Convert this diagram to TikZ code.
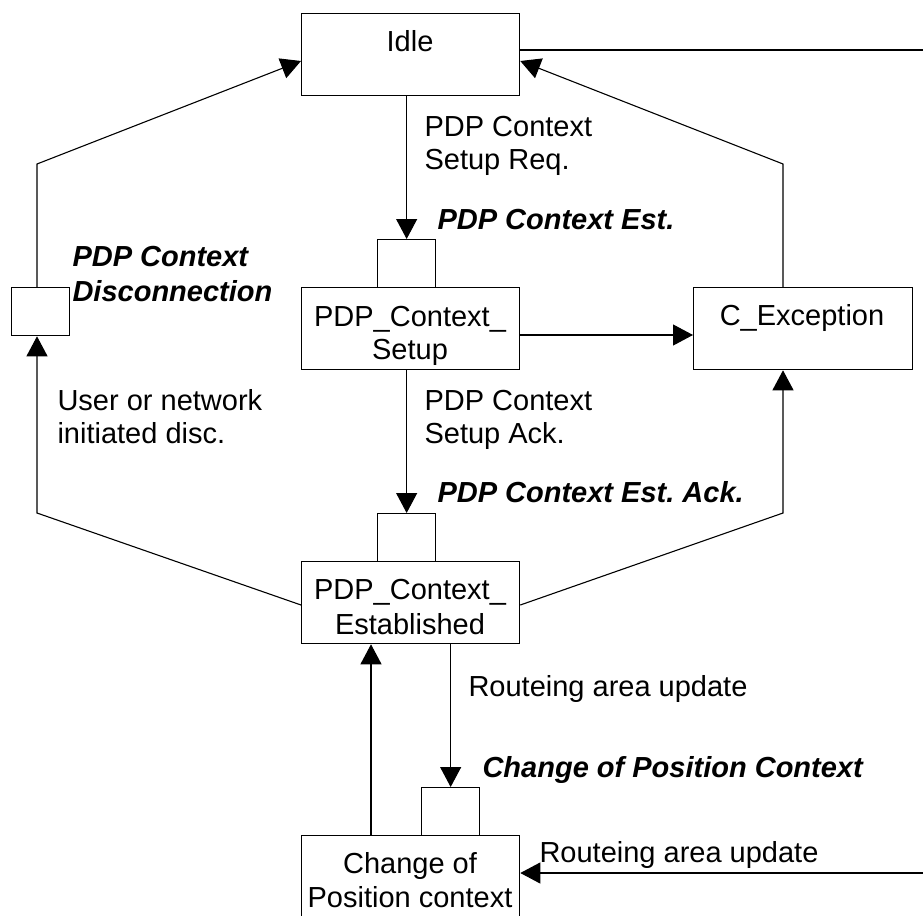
\documentclass[tikz,border=0pt]{standalone}
\usepackage{fontspec}
\setmainfont{Liberation Sans}
\usetikzlibrary{arrows.meta}
\frenchspacing
\begin{document}
\begin{tikzpicture}[x=1pt,y=-1pt,line width=1.1pt,
  box/.style={draw,line width=1.3pt,inner sep=0pt,anchor=north west},
  lbl/.style={font=\fontsize{29}{34}\selectfont,anchor=base west,inner sep=0pt},
  blbl/.style={lbl,font=\fontsize{29}{34}\selectfont\bfseries\itshape},
  ctr/.style={lbl,anchor=base},
  arr/.style={-{Triangle[length=20pt,width=21pt]}}]
\useasboundingbox (0,0) rectangle (923,915);
\clip (0,0) rectangle (923,915);
% state boxes
\node[box,minimum width=218pt,minimum height=82pt] (idle) at (301,13) {};
\node[box,minimum width=218pt,minimum height=82pt] (setup) at (301,287) {};
\node[box,minimum width=219pt,minimum height=82pt] (cexc) at (693,287) {};
\node[box,minimum width=218pt,minimum height=82pt] (est) at (301,561) {};
\node[box,minimum width=218pt,minimum height=100pt] (chg) at (301,835) {};
% small boxes
\node[box,minimum width=58pt,minimum height=48pt] (sbdisc) at (11,287) {};
\node[box,minimum width=58pt,minimum height=48pt] (sbsetup) at (377,239) {};
\node[box,minimum width=58pt,minimum height=48pt] (sbest) at (377,513) {};
\node[box,minimum width=58pt,minimum height=48pt] (sbchg) at (421,787) {};
% texts in boxes
\node[ctr] (idleT) at (410,52) {Idle};
\node[ctr] (setupT1) at (410,326) {PDP\_Context\_};
\node[ctr] (setupT2) at (410,359) {Setup};
\node[ctr] (cexcT) at (802,325) {C\_Exception};
\node[ctr] (estT1) at (410,599) {PDP\_Context\_};
\node[ctr] (estT2) at (410,634) {Established};
\node[ctr] (chgT1) at (410,873) {Change of};
\node[ctr] (chgT2) at (410,907) {Position context};
% labels
\node[lbl] (reqT1) at (424,136) {PDP Context};
\node[lbl] (reqT2) at (424,169) {Setup Req.};
\node[blbl] (estB) at (437,229) {PDP Context Est.};
\node[blbl] (discB1) at (72,266) {PDP Context};
\node[blbl] (discB2) at (72,301) {Disconnection};
\node[lbl] (userT1) at (57,410) {User or network};
\node[lbl] (userT2) at (57,443) {initiated disc.};
\node[lbl] (ackT1) at (424,410) {PDP Context};
\node[lbl] (ackT2) at (424,443) {Setup Ack.};
\node[blbl] (estAckB) at (437,502) {PDP Context Est. Ack.};
\node[lbl] (raT1) at (468,696) {Routeing area update};
\node[blbl] (chgB) at (482,777) {Change of Position Context};
\node[lbl] (raT2) at (539,862) {Routeing area update};
% free-end coordinates
\coordinate (rtop) at (923,50);
\coordinate (rbot) at (923,873);
\coordinate (lup) at (37,164);
\coordinate (llow) at (37,513);
\coordinate (rup) at (783,164);
\coordinate (rlow) at (783,513);
% connectors
\draw (idle.east |- rtop) -- (rtop);
\draw[arr] (sbsetup.north |- idle.south) -- (sbsetup.north);
\draw[arr] (setup.east |- 0,335) -- (cexc.west |- 0,335);
\draw[arr] (rup |- cexc.north) -- (rup) -- (idle.east |- 0,61);
\draw[arr] (sbest.north |- setup.south) -- (sbest.north);
\draw[arr] (est.west |- 0,605) -- (llow) -- (llow |- sbdisc.south);
\draw[arr] (lup |- sbdisc.north) -- (lup) -- (idle.west |- 0,61);
\draw[arr] (est.east |- 0,605) -- (rlow) -- (rlow |- cexc.south);
\draw[arr] (sbchg.north |- est.south) -- (sbchg.north);
\draw[arr] (371,835) coordinate (chgup) -- (chgup |- est.south);
\draw[arr] (rbot) -- (chg.east |- rbot);
\end{tikzpicture}
\end{document}
